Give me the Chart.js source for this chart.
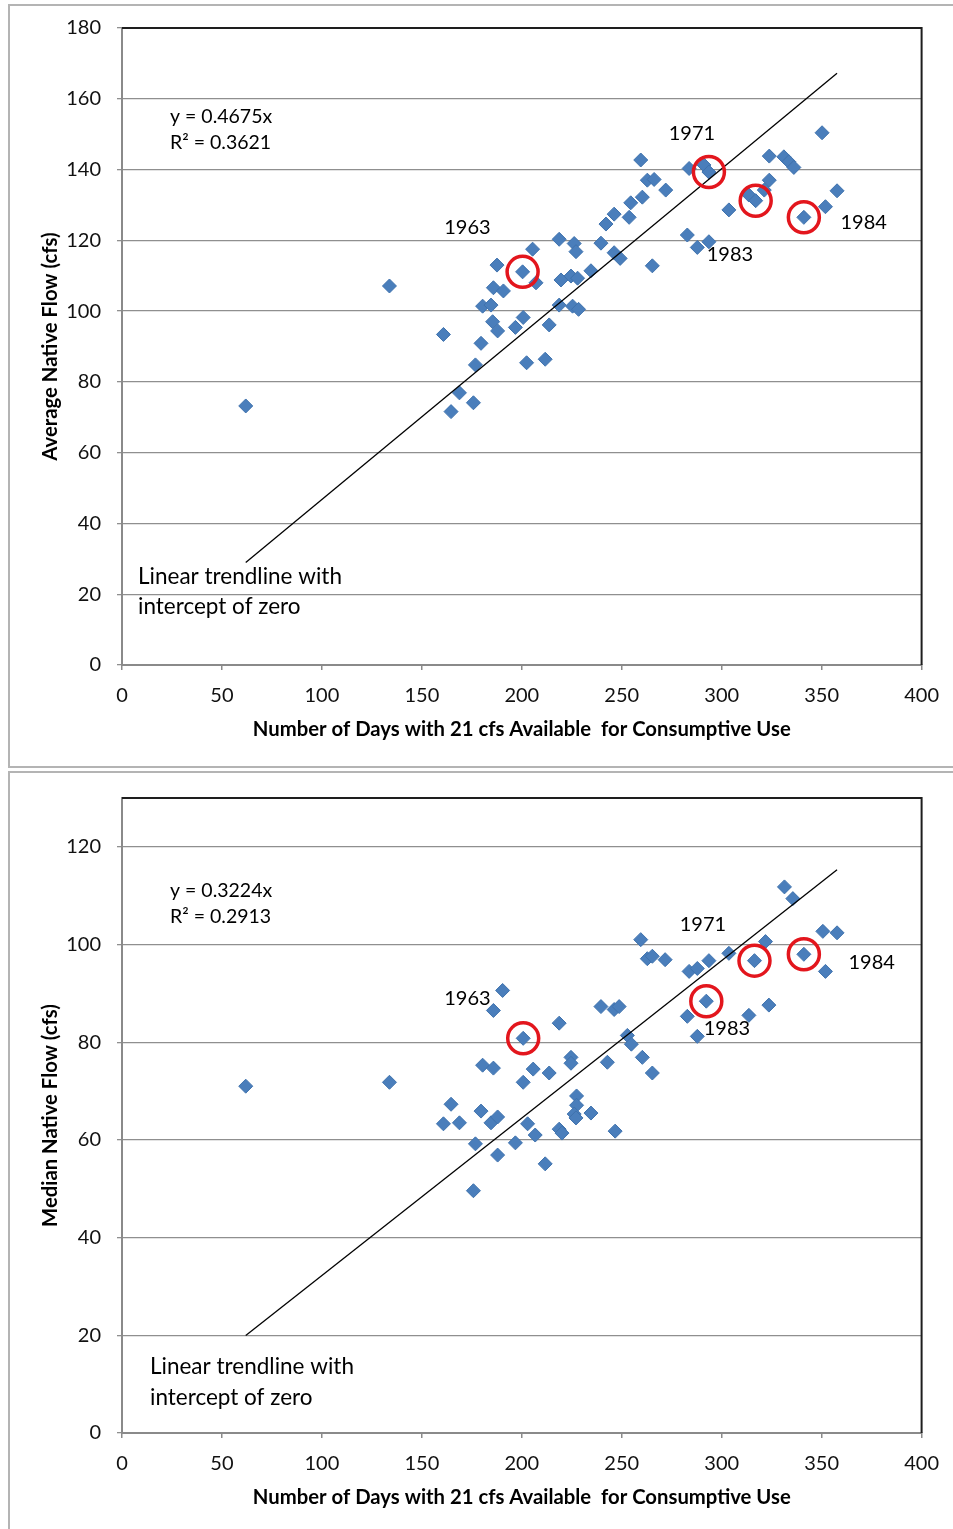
<!DOCTYPE html>
<html>
<head>
<meta charset="utf-8">
<script src="https://cdn.jsdelivr.net/npm/chart.js@4.4.1/dist/chart.umd.min.js"></script>
<style>
  html, body { margin: 0; padding: 0; background: #fff; }
  body { width: 953px; height: 1529px; overflow: hidden; position: relative; }
  .frame { position: absolute; border: 2px solid #b4b4b4; box-sizing: border-box; }
  #f1 { left: 8px; top: 4px; width: 960px; height: 764px; }
  #f2 { left: 8px; top: 771px; width: 960px; height: 780px; }
  canvas { position: absolute; left: 0; }
  #c1 { top: 0; }
  #c2 { top: 770px; }
</style>
</head>
<body>
<div class="frame" id="f1"></div>
<div class="frame" id="f2"></div>
<canvas id="c1" width="953" height="770"></canvas>
<canvas id="c2" width="953" height="759"></canvas>
<script>
// ---------------- DATA ----------------
// Top chart: Number of days with 21 cfs available vs average native flow
const daysTop = [61.9,133.8,160.8,164.6,168.8,175.8,176.8,179.6,180.4,184.6,185.8,185.4,187.9,187.6,190.8,196.8,200.7,200.4,202.4,205.4,207.1,211.7,213.7,218.7,218.7,219.6,224.6,225.4,226.2,227.1,228.4,227.9,234.6,239.6,242.1,246.2,246.2,249.2,253.7,254.5,259.5,260.3,262.8,266.2,265.3,272.0,282.8,283.7,287.8,291.1,293.6,293.6,303.6,313.6,317.0,321.3,323.8,323.8,331.1,333.6,336.1,341.1,351.9,350.2,357.7];
const avgFlow = [73.2,107.1,93.4,71.6,76.9,74.1,84.8,90.9,101.4,101.7,106.6,97.0,94.4,113.0,105.7,95.4,98.2,111.1,85.4,117.5,108.0,86.4,96.1,120.3,101.7,108.8,109.9,101.4,119.1,116.8,100.5,109.3,111.4,119.2,124.6,127.4,116.5,114.9,126.5,130.6,142.7,132.2,137.0,137.2,112.8,134.2,121.5,140.3,118.0,141.3,139.3,119.6,128.6,132.8,131.2,134.2,137.0,143.8,143.6,142.2,140.6,126.5,129.5,150.4,134.0];
// Bottom chart: Number of days vs median native flow
const daysBottom = [61.9,133.8,160.8,164.6,168.8,175.8,176.8,179.6,180.4,184.6,185.8,185.8,187.9,187.9,190.4,196.8,200.7,200.7,202.9,205.7,206.7,211.7,213.7,218.7,218.7,220.1,224.6,224.6,227.4,227.4,226.2,227.1,234.6,239.6,242.8,246.7,246.2,248.7,252.8,254.8,259.5,260.3,262.8,265.3,265.3,271.7,282.8,283.7,287.8,287.8,292.3,293.6,303.6,313.6,316.4,321.9,323.6,331.4,335.6,341.1,350.6,351.9,357.7];
const medianFlow = [71.0,71.8,63.3,67.3,63.5,49.6,59.2,65.9,75.3,63.5,74.7,86.5,64.7,56.9,90.6,59.4,71.8,80.8,63.3,74.5,61.0,55.1,73.7,83.9,62.2,61.4,76.9,75.7,69.0,67.1,65.3,64.5,65.5,87.3,75.9,61.8,86.7,87.3,81.4,79.6,101.0,76.9,97.1,97.6,73.7,96.9,85.3,94.5,81.2,95.1,88.4,96.7,98.2,85.5,96.7,100.6,87.6,111.8,109.4,98.0,102.7,94.5,102.4];

// Highlighted (circled) years
const highlightYears = ['1963', '1971', '1983', '1984'];
const circledDaysTop = [200.4, 293.6, 317.0, 341.1];
const circledAvgFlow = [111.1, 139.3, 131.2, 126.5];
const circledDaysBottom = [200.7, 292.3, 316.4, 341.1];
const circledMedianFlow = [80.8, 88.4, 96.7, 98.0];

// Trendline (intercept of zero)
const slopeAvg = 0.4675, r2Avg = '0.3621';
const slopeMedian = 0.3224, r2Median = '0.2913';

// Axis ticks
const xTicks = [0, 50, 100, 150, 200, 250, 300, 350, 400];
const yTicksTop = [0, 20, 40, 60, 80, 100, 120, 140, 160, 180];
const yTicksBottom = [0, 20, 40, 60, 80, 100, 120];

const xTitle = 'Number of Days with 21 cfs Available  for Consumptive Use';
// ---------------------------------------

const FONT = 'Lato, "Open Sans", "Noto Sans", sans-serif';
const BLUE = '#4a7ebb';
const RED = '#e3161d';

const overlayPlugin = {
  id: 'overlay',
  afterDatasetsDraw(chart, args, opts) {
    const { ctx, chartArea: a, scales: { x, y } } = chart;
    ctx.save();
    ctx.strokeStyle = '#1e1e1e';
    ctx.lineWidth = 2;
    ctx.beginPath();
    ctx.moveTo(a.left, a.top);
    ctx.lineTo(a.right, a.top);
    ctx.lineTo(a.right, a.bottom);
    ctx.stroke();
    ctx.fillStyle = '#000';
    ctx.textBaseline = 'middle';
    for (const t of opts.texts) {
      ctx.font = t.font;
      ctx.textAlign = t.align || 'center';
      ctx.fillText(t.text, x.getPixelForValue(t.x), y.getPixelForValue(t.y));
    }
    ctx.restore();
  }
};

function makeChart(id, cfg) {
  const pts = cfg.xs.map((v, i) => ({ x: v, y: cfg.ys[i] }));
  const circ = cfg.cx.map((v, i) => ({ x: v, y: cfg.cy[i] }));
  const minX = Math.min(...cfg.xs), maxX = Math.max(...cfg.xs);
  const trend = [{ x: minX, y: cfg.slope * minX }, { x: maxX, y: cfg.slope * maxX }];
  return new Chart(document.getElementById(id), {
    type: 'scatter',
    data: {
      datasets: [
        { data: circ, pointStyle: 'circle', pointRadius: 15.5, pointBorderWidth: 3.5,
          pointBorderColor: RED, pointBackgroundColor: 'rgba(0,0,0,0)', showLine: false },
        { data: trend, showLine: true, borderColor: '#000', borderWidth: 1.3, pointRadius: 0 },
        { data: pts, pointStyle: 'rectRot', pointRadius: 7, pointBorderWidth: 1,
          pointBorderColor: '#3f72ad', pointBackgroundColor: BLUE }
      ]
    },
    options: {
      responsive: false,
      devicePixelRatio: 1,
      animation: false,
      events: [],
      layout: { padding: { left: 0, top: cfg.padTop, right: 29, bottom: 0 } },
      plugins: {
        legend: { display: false },
        tooltip: { enabled: false },
        overlay: { texts: cfg.texts }
      },
      scales: {
        x: {
          type: 'linear', min: xTicks[0], max: xTicks[xTicks.length - 1],
          afterFit(s) { s.height = cfg.xAxisH; },
          afterBuildTicks(s) { s.ticks = xTicks.map(v => ({ value: v })); },
          grid: { drawOnChartArea: false, drawTicks: true, tickLength: 5, color: '#8a8a8a', lineWidth: 1.5 },
          border: { display: true, color: '#8a8a8a', width: 2 },
          ticks: { font: { family: FONT, size: 20 }, color: '#111', padding: 14, maxRotation: 0 },
          title: { display: true, text: xTitle, font: { family: FONT, size: 20.3, weight: 'bold' },
                   color: '#000', padding: { top: 0, bottom: cfg.xTitlePad } }
        },
        y: {
          type: 'linear', min: 0, max: cfg.yMax,
          afterFit(s) { s.width = 122; },
          afterBuildTicks(s) { s.ticks = cfg.yTicks.map(v => ({ value: v })); },
          grid: { drawTicks: true, tickLength: 5, color: '#8f8f8f', lineWidth: 1.3 },
          border: { display: true, color: '#8a8a8a', width: 2 },
          ticks: { font: { family: FONT, size: 20 }, color: '#111', padding: 16 },
          title: { display: true, text: cfg.yTitle, font: { family: FONT, size: 20.3, weight: 'bold' },
                   color: '#000', padding: { top: 38, bottom: 0 } }
        }
      }
    },
    plugins: [overlayPlugin]
  });
}

const fLabel = '20px ' + FONT;
const fEq = '19.5px ' + FONT;
const fNote = '22.5px ' + FONT;

makeChart('c1', {
  xs: daysTop, ys: avgFlow, cx: circledDaysTop, cy: circledAvgFlow, slope: slopeAvg,
  yMax: 180, yTicks: yTicksTop, yTitle: 'Average Native Flow (cfs)',
  padTop: 28, xAxisH: 105, xTitlePad: 28,
  texts: [
    { text: highlightYears[0], x: 172.8, y: 123.5, font: fLabel },
    { text: highlightYears[1], x: 285.1, y: 150.3, font: fLabel },
    { text: highlightYears[2], x: 304.1, y: 115.9, font: fLabel },
    { text: highlightYears[3], x: 371.0, y: 124.9, font: fLabel },
    { text: 'y = ' + slopeAvg + 'x', x: 24, y: 154.8, font: fEq, align: 'left' },
    { text: 'R\u00B2 = ' + r2Avg, x: 24, y: 147.5, font: fEq, align: 'left' },
    { text: 'Linear trendline with', x: 8.0, y: 24.9, font: fNote, align: 'left' },
    { text: 'intercept of zero', x: 8.0, y: 16.4, font: fNote, align: 'left' }
  ]
});

makeChart('c2', {
  xs: daysBottom, ys: medianFlow, cx: circledDaysBottom, cy: circledMedianFlow, slope: slopeMedian,
  yMax: 130, yTicks: yTicksBottom, yTitle: 'Median Native Flow (cfs)',
  padTop: 26, xAxisH: 96, xTitlePad: 19,
  texts: [
    { text: highlightYears[0], x: 172.8, y: 89.0, font: fLabel },
    { text: highlightYears[1], x: 290.6, y: 104.1, font: fLabel },
    { text: highlightYears[2], x: 302.6, y: 82.7, font: fLabel },
    { text: highlightYears[3], x: 375.0, y: 96.3, font: fLabel },
    { text: 'y = ' + slopeMedian + 'x', x: 24, y: 111.0, font: fEq, align: 'left' },
    { text: 'R\u00B2 = ' + r2Median, x: 24, y: 105.7, font: fEq, align: 'left' },
    { text: 'Linear trendline with', x: 14.0, y: 13.5, font: fNote, align: 'left' },
    { text: 'intercept of zero', x: 14.0, y: 7.3, font: fNote, align: 'left' }
  ]
});
</script>
</body>
</html>
